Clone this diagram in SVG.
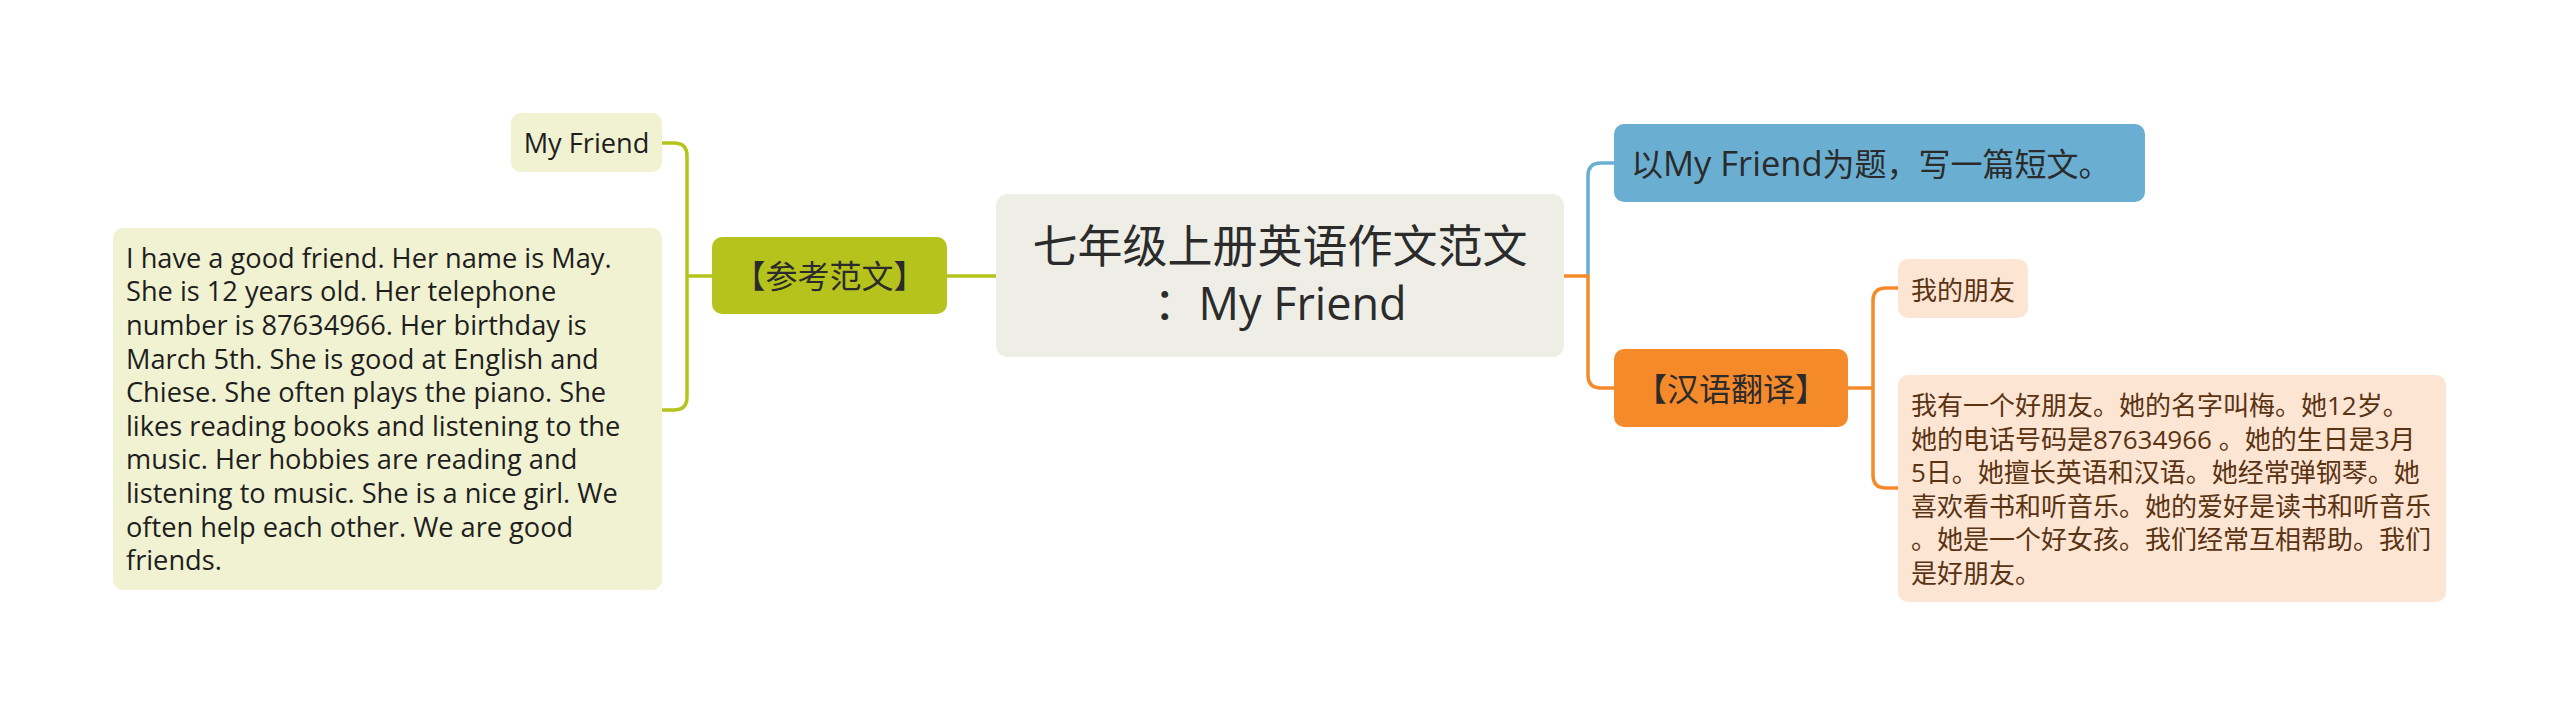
<svg xmlns="http://www.w3.org/2000/svg" width="2560" height="715" viewBox="0 0 2560 715">
<style>
text{font-family:"Open Sans","Noto Sans CJK SC",sans-serif;}
.c{text-anchor:middle;}
.dark{fill:#2b2b2b;}
.brown{fill:#5a3312;font-size:26px;}
.en{fill:#1e1e1e;font-size:27.2px;}
.g{fill:none;stroke:#b5c31c;stroke-width:3.5;}
.b{fill:none;stroke:#6aafd2;stroke-width:3.5;}
.o{fill:none;stroke:#f58a2b;stroke-width:3.5;}
</style>
<rect width="2560" height="715" fill="#ffffff"/>
<g id="connectors">
<path class="g" d="M947 276 H996"/>
<path class="g" d="M712 276 H687"/>
<path class="g" d="M662 143 H674 Q687 143 687 156 V397 Q687 410 674 410 H662"/>
<path class="b" d="M1588 276 V176 Q1588 163 1601 163 H1614"/>
<path class="o" d="M1564 276 H1588 V375 Q1588 388 1601 388 H1614"/>
<path class="o" d="M1848 388 H1873"/>
<path class="o" d="M1898 288 H1886 Q1873 288 1873 301 V475 Q1873 488 1886 488 H1898"/>
</g>
<g id="central">
<rect x="996" y="194" width="568" height="163" rx="12" fill="#eeeee6"/>
<text class="c dark" x="1280" y="263" font-size="45">七年级上册英语作文范文</text>
<text class="c dark" x="1280" y="320" font-size="45">：My Friend</text>
</g>
<g id="ref">
<rect x="712" y="237" width="235" height="77" rx="10" fill="#b5c31c"/>
<text class="c dark" x="829.5" y="288" font-size="32">【参考范文】</text>
</g>
<g id="ref-title">
<rect x="511" y="113" width="151" height="59" rx="10" fill="#f0f2d2"/>
<text class="c en" x="586.5" y="153">My Friend</text>
</g>
<g id="ref-body">
<rect x="113" y="228" width="549" height="362" rx="10" fill="#f0f2d2"/>
<text class="en" x="126" y="267.7">
<tspan x="126">I have a good friend. Her name is May.</tspan>
<tspan x="126" dy="33.6">She is 12 years old. Her telephone</tspan>
<tspan x="126" dy="33.6">number is 87634966. Her birthday is</tspan>
<tspan x="126" dy="33.6">March 5th. She is good at English and</tspan>
<tspan x="126" dy="33.6">Chiese. She often plays the piano. She</tspan>
<tspan x="126" dy="33.6">likes reading books and listening to the</tspan>
<tspan x="126" dy="33.6">music. Her hobbies are reading and</tspan>
<tspan x="126" dy="33.6">listening to music. She is a nice girl. We</tspan>
<tspan x="126" dy="33.6">often help each other. We are good</tspan>
<tspan x="126" dy="33.6">friends.</tspan>
</text>
</g>
<g id="task">
<rect x="1614" y="124" width="531" height="78" rx="10" fill="#6aafd2"/>
<text class="dark" x="1631" y="176" font-size="32">以<tspan font-size="34.5">My Friend</tspan>为题，写一篇短文。</text>
</g>
<g id="trans">
<rect x="1614" y="349" width="234" height="78" rx="10" fill="#f58a2b"/>
<text class="c dark" x="1731" y="401" font-size="32">【汉语翻译】</text>
</g>
<g id="trans-title">
<rect x="1898" y="259" width="130" height="59" rx="10" fill="#fde5d4"/>
<text class="c brown" x="1963" y="300">我的朋友</text>
</g>
<g id="trans-body">
<rect x="1898" y="375" width="548" height="227" rx="10" fill="#fde5d4"/>
<text class="brown" x="1911" y="415">
<tspan x="1911">我有一个好朋友。她的名字叫梅。她12岁。</tspan>
<tspan x="1911" dy="33.6">她的电话号码是87634966 。她的生日是3月</tspan>
<tspan x="1911" dy="33.6">5日。她擅长英语和汉语。她经常弹钢琴。她</tspan>
<tspan x="1911" dy="33.6">喜欢看书和听音乐。她的爱好是读书和听音乐</tspan>
<tspan x="1911" dy="33.6">。她是一个好女孩。我们经常互相帮助。我们</tspan>
<tspan x="1911" dy="33.6">是好朋友。</tspan>
</text>
</g>
</svg>
